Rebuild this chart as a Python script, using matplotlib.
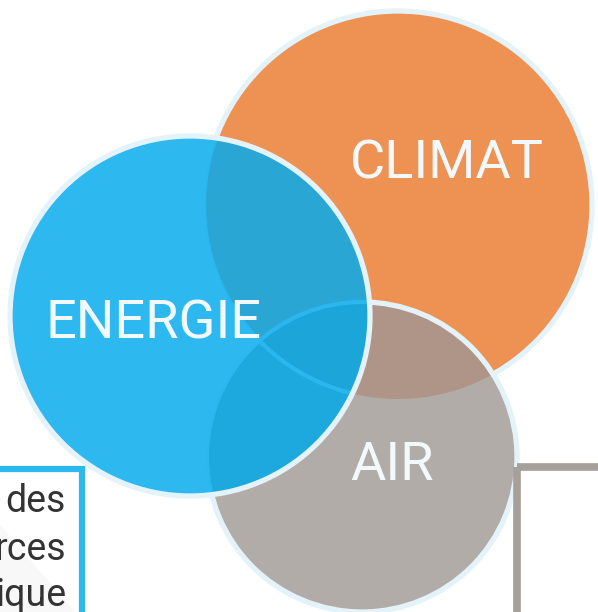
import numpy as np
import matplotlib
matplotlib.use("Agg")
import matplotlib.pyplot as plt
from matplotlib.patches import Circle, Polygon, Rectangle

# ---- data ----
labels = ["CLIMAT", "ENERGIE", "AIR"]
fill_colors = ["#EE9254", "#2DB8F0", "#B2ACA8"]
pair_colors = {("CLIMAT", "AIR"): "#AE9588",
               ("ENERGIE", "CLIMAT"): "#29A6D3",
               ("ENERGIE", "AIR"): "#1DA9DD"}
triple_color = "#1CA5D8"
box_lines = ["des", "rces", "ique"]

# layout (pixels, y downward)
geom = {"CLIMAT": (398, 205, 194), "ENERGIE": (190, 316, 180), "AIR": (362, 457, 155)}
label_pos = {"CLIMAT": (447, 164), "ENERGIE": (153, 324), "AIR": (392, 466)}
edge_col = "#E4F2F9"
text_col = "#F2F9FC"

fig = plt.figure(figsize=(5.98, 6.12), dpi=100)
ax = fig.add_axes([0, 0, 1, 1])
ax.set_xlim(0, 598)
ax.set_ylim(612, 0)
ax.set_aspect("equal")
ax.axis("off")

def circ(name, **kw):
    cx, cy, r = geom[name]
    return Circle((cx, cy), r, **kw)

def inside(pts, name):
    cx, cy, r = geom[name]
    return (pts[:, 0] - cx) ** 2 + (pts[:, 1] - cy) ** 2 <= r ** 2 + 1e-6

def intersection_poly(names):
    pts = []
    t = np.linspace(0, 2 * np.pi, 1440, endpoint=False)
    for n in names:
        cx, cy, r = geom[n]
        p = np.column_stack([cx + r * np.cos(t), cy + r * np.sin(t)])
        mask = np.ones(len(p), bool)
        for m in names:
            if m != n:
                mask &= inside(p, m)
        pts.append(p[mask])
    pts = np.vstack(pts)
    c = pts.mean(axis=0)
    ang = np.arctan2(pts[:, 1] - c[1], pts[:, 0] - c[0])
    return pts[np.argsort(ang)]

lw = 3.8
col = dict(zip(labels, fill_colors))

# CLIMAT
ax.add_patch(circ("CLIMAT", facecolor=col["CLIMAT"], edgecolor=edge_col, lw=lw, zorder=1))
# AIR
ax.add_patch(circ("AIR", facecolor=col["AIR"], edgecolor="none", zorder=2))
ax.add_patch(Polygon(intersection_poly(["CLIMAT", "AIR"]), closed=True,
                     facecolor=pair_colors[("CLIMAT", "AIR")], edgecolor="none", zorder=3))
ax.add_patch(circ("AIR", facecolor="none", edgecolor=edge_col, lw=lw, zorder=4))

# ENERGIE
ax.add_patch(circ("ENERGIE", facecolor=col["ENERGIE"], edgecolor="none", zorder=5))
ax.add_patch(Polygon(intersection_poly(["ENERGIE", "CLIMAT"]), closed=True,
                     facecolor=pair_colors[("ENERGIE", "CLIMAT")], edgecolor="none", zorder=6))
ax.add_patch(Polygon(intersection_poly(["ENERGIE", "AIR"]), closed=True,
                     facecolor=pair_colors[("ENERGIE", "AIR")], edgecolor="none", zorder=6))
ax.add_patch(Polygon(intersection_poly(["ENERGIE", "CLIMAT", "AIR"]), closed=True,
                     facecolor=triple_color, edgecolor="none", zorder=7))
# faint inner outlines seen through ENERGIE
for n in ["CLIMAT", "AIR"]:
    c = circ(n, facecolor="none", edgecolor="#2CB9F2", lw=3.0, alpha=0.9, zorder=8)
    ax.add_patch(c)
    c.set_clip_path(circ("ENERGIE", transform=ax.transData))
ax.add_patch(circ("ENERGIE", facecolor="none", edgecolor=edge_col, lw=lw, zorder=9))

# labels
for n in labels:
    x, y = label_pos[n]
    ax.text(x, y, n, ha="center", va="center", fontsize=39, color=text_col,
            family="Roboto", fontweight="normal", zorder=10)

# bottom-left box (blue border)
ax.add_patch(Polygon([[0, 525], [75, 612], [0, 612]], closed=True,
                     facecolor="#F8F8F8", edgecolor="none", zorder=10))
ax.add_patch(Rectangle((-20, 469), 102, 200, facecolor="none", edgecolor="#2DB8F0",
                       lw=4.5, zorder=11))
for i, t in enumerate(box_lines):
    ax.text(66, 502 + i * 47, t, ha="right", va="center", fontsize=27, color="#333333",
            family="Roboto", zorder=12)

# bottom-right box (gray border)
ax.add_patch(Rectangle((517, 467), 120, 200, facecolor="none", edgecolor="#A79F9A",
                       lw=5.5, zorder=11))

fig.savefig("out.png", dpi=100)
